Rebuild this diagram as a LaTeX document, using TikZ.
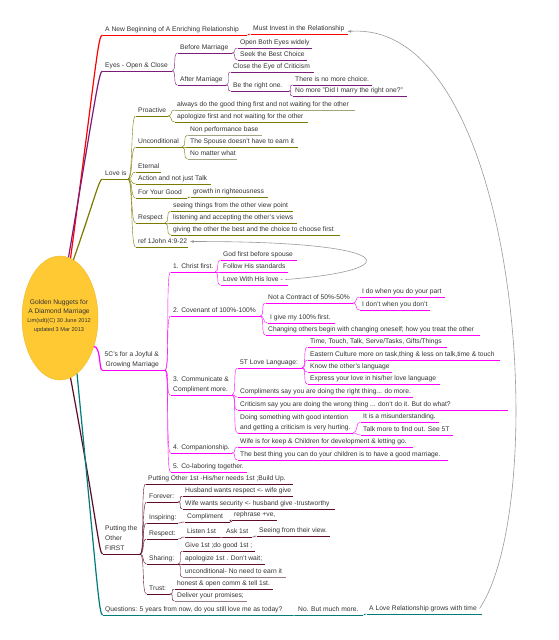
\documentclass[tikz,border=0pt]{standalone}
\usepackage{fontspec}
\setmainfont{Liberation Sans}
\usetikzlibrary{arrows.meta,shapes.geometric}
\definecolor{txt}{HTML}{333333}
\definecolor{cRed}{HTML}{FF0000}
\definecolor{cPur}{HTML}{7B1C7B}
\definecolor{cOli}{HTML}{7A7A00}
\definecolor{cOliL}{HTML}{A3A37F}
\definecolor{cMag}{HTML}{FF00FF}
\definecolor{cMar}{HTML}{5E0B24}
\definecolor{cMarL}{HTML}{9A7A86}
\definecolor{cTea}{HTML}{007B7B}
\definecolor{gold}{HTML}{FFC933}
\definecolor{goldD}{HTML}{F0B828}
\definecolor{arrg}{HTML}{9A9A9A}
\newcommand\mmnode[7][]{%
  \node[tbox,#1] (#2) at (#4,#6) {#7};
  \coordinate (#2-e) at (#5,#6);
  \draw[#3,uline] (#2.south west) -- (#2-e);
}
\begin{document}
\begin{tikzpicture}[x=1pt,y=-1pt,
  tbox/.style={anchor=south west, inner xsep=2.5pt, inner ysep=2pt, text height=5pt, text depth=1.5pt, align=left, font=\fontsize{6.7}{9.7}\selectfont, text=txt},
  uline/.style={line width=1pt},
  lnk/.style={line width=1pt, to path={.. controls +(5,0) and +(-5,0) .. (\tikztotarget)}},
  trunk/.style={line width=1.2pt},
  rel/.style={draw=arrg, line width=0.6pt, -{Latex[length=4pt,width=3pt]}},
  ctext/.style={anchor=base, text=txt, inner sep=0pt}
]
\useasboundingbox (0,0) rectangle (559,640);
\fill[white] (0,0) rectangle (559,640);

% central topic
\node[ellipse, fill=gold, draw=goldD, line width=0.4pt, minimum width=76pt, minimum height=124pt, inner sep=0pt] (c) at (60,318) {};
\node[ctext, font=\fontsize{6.7}{8}\selectfont] (ct1) at (59,304.4) {Golden Nuggets for};
\node[ctext, font=\fontsize{6.7}{8}\selectfont] (ct2) at (59,313.4) {A Diamond Marriage};
\node[ctext, font=\fontsize{5.6}{7}\selectfont] (ct3) at (59,322) {Lim(sdt)(C) 30 June 2012};
\node[ctext, font=\fontsize{5.6}{7}\selectfont] (ct4) at (59,331) {updated 3 Mar 2013};

% red branch
\mmnode{r1}{cRed}{102.5}{247}{35}{A New Beginning of A Enriching Relationship}
\mmnode{r2}{cRed}{250.5}{348}{34}{Must Invest in the Relationship}

% purple branch
\mmnode{e0}{cPur}{102.5}{172}{71}{Eyes - Open \& Close}
\mmnode{e1}{cPur}{177.5}{232}{53}{Before Marriage}
\mmnode{e11}{cPur}{237.5}{312}{48}{Open Both Eyes widely}
\mmnode{e12}{cPur}{237.5}{307}{60}{Seek the Best Choice}
\mmnode{e2}{cPur}{177.5}{226}{85}{After Marriage}
\mmnode{e21}{cPur}{230.5}{314}{72}{Close the Eye of Criticism}
\mmnode{e22}{cPur}{230.5}{289}{91}{Be the right one.}
\mmnode{e221}{cPur}{292.5}{372}{85}{There is no more choice.}
\mmnode{e222}{cPur}{292.5}{407}{96}{No more "Did I marry the right one?"}

% olive branch
\mmnode{l0}{cOli}{102.5}{128}{179}{Love is}
\mmnode{l1}{cOli}{135.5}{168}{116}{Proactive}
\mmnode{l11}{cOliL}{174.5}{355}{110}{always do the good thing first and not waiting for the other}
\mmnode{l12}{cOli}{174.5}{308}{122}{apologize first and not waiting for the other}
\mmnode{l2}{cOli}{135.5}{182}{147}{Unconditional}
\mmnode{l21}{cOliL}{187.5}{262}{135}{Non performance base}
\mmnode{l22}{cOli}{187.5}{298}{147}{The Spouse doesn't have to earn it}
\mmnode{l23}{cOliL}{187.5}{237}{159}{No matter what}
\mmnode{l3}{cOli}{135.5}{161}{172}{Eternal}
\mmnode{l4}{cOli}{135.5}{211}{184}{Action and not just Talk}
\mmnode{l5}{cOli}{135.5}{187}{198}{For Your Good}
\mmnode{l51}{cOli}{190.5}{268}{197}{growth in righteousness}
\mmnode{l6}{cOli}{135.5}{165}{223}{Respect}
\mmnode{l61}{cOli}{170.5}{293}{211}{seeing things from the other view point}
\mmnode{l62}{cOli}{170.5}{297}{223}{listening and accepting the other's views}
\mmnode{l63}{cOli}{170.5}{340}{235}{giving the other the best and the choice to choose first}
\mmnode{l7}{cOli}{135.5}{188}{247}{ref 1John 4:9-22}

% magenta branch
\mmnode[align=right]{m0}{cMag}{102}{165}{370}{5C's for a Joyful \&\\Growing Marriage}
\mmnode{m1}{cMag}{170.5}{215}{272}{1. Christ first.}
\mmnode{m11}{cMag}{220.5}{297}{260}{God first before spouse}
\mmnode{m12}{cMag}{220.5}{288}{272}{Follow His standards}
\mmnode{m13}{cMag}{220.5}{288}{285}{Love With His love -}
\mmnode{m2}{cMag}{170.5}{260}{316}{2. Covenant of 100\%-100\%}
\mmnode{m21}{cMag}{265.5}{353}{303}{Not a Contract of 50\%-50\%}
\mmnode{m211}{cMag}{359.5}{445}{297}{I do when you do your part}
\mmnode{m212}{cMag}{359.5}{430}{310}{I don't when you don't}
\mmnode{m22}{cMag}{267.5}{335}{323}{I give my 100\% first.}
\mmnode{m23}{cMag}{265.5}{480}{335}{Changing others begin with changing oneself; how you treat the other}
\mmnode{m3}{cMag}{170.5}{232}{395}{3. Communicate \&\\Compliment more.}
\mmnode{m31}{cMag}{237.5}{302}{368}{5T Love Language:}
\mmnode{m311}{cMag}{307.5}{447}{347}{Time, Touch, Talk, Serve/Tasks, Gifts/Things}
\mmnode{m312}{cMag}{307.5}{500}{360}{Eastern Culture more on task,thing \& less on talk,time \& touch}
\mmnode{m313}{cMag}{307.5}{392}{372}{Know the other's language}
\mmnode{m314}{cMag}{307.5}{440}{384}{Express your love in his/her love language}
\mmnode{m32}{cMag}{237.5}{413}{397}{Compliments say you are doing the right thing... do more.}
\mmnode{m33}{cMag}{237.5}{508}{410}{Criticism say you are doing the wrong thing ... don't do it. But do what?}
\mmnode{m34}{cMag}{237.5}{353}{433}{Doing something with good intention\\and getting a criticism is very hurting.}
\mmnode{m341}{cMag}{360.5}{439}{422}{It is a misunderstanding.}
\mmnode{m342}{cMag}{360.5}{453}{435}{Talk more to find out. See 5T}
\mmnode{m4}{cMag}{170.5}{232}{453}{4. Companionship.}
\mmnode{m41}{cMag}{237.5}{413}{447}{Wife is for keep \& Children for development \& letting go.}
\mmnode{m42}{cMag}{237.5}{448}{460}{The best thing you can do your children is to have a good marriage.}
\mmnode{m5}{cMag}{170.5}{247}{472}{5. Co-laboring together.}

% maroon branch
\mmnode{p0}{cMar}{102.5}{140}{554}{Putting the\\Other\\FIRST}
\mmnode{p1}{cMar}{145.5}{293}{484}{Putting Other 1st -His/her needs 1st ;Build Up.}
\mmnode{p2}{cMar}{146.5}{178}{502}{Forever:}
\mmnode{p21}{cMar}{182.5}{293}{496}{Husband wants respect <- wife give}
\mmnode{p22}{cMar}{182.5}{335}{509}{Wife wants security <- husband give -trustworthy}
\mmnode{p3}{cMar}{146.5}{178}{523}{Inspiring:}
\mmnode{p31}{cMar}{184.5}{230}{522}{Compliment}
\mmnode{p311}{cMar}{231.5}{277}{520}{rephrase +ve,}
\mmnode{p4}{cMar}{146.5}{178}{539}{Respect:}
\mmnode{p41}{cMar}{184.5}{219}{537}{Listen 1st}
\mmnode{p411}{cMar}{223.5}{252}{537}{Ask 1st}
\mmnode{p4111}{cMar}{256.5}{330}{536}{Seeing from their view.}
\mmnode{p5}{cMar}{146.5}{178}{564}{Sharing:}
\mmnode{p51}{cMar}{182.5}{255}{551}{Give 1st ;do good 1st ;}
\mmnode{p52}{cMar}{182.5}{265}{564}{apologize 1st . Don't wait;}
\mmnode{p53}{cMarL}{182.5}{286}{577}{unconditional- No need to earn it}
\mmnode{p6}{cMar}{146.5}{170}{594}{Trust:}
\mmnode{p61}{cMar}{174.5}{273}{589}{honest \& open comm \& tell 1st.}
\mmnode{p62}{cMarL}{174.5}{247}{601}{Deliver your promises;}

% teal branch
\mmnode{q0}{cTea}{102.5}{292}{615}{Questions: 5 years from now, do you still love me as today?}
\mmnode{q1}{cTea}{295.5}{363}{615}{No. But much more.}
\mmnode{q2}{cTea}{366.5}{482}{614}{A Love Relationship grows with time}

% trunks from the central topic
\draw[cRed,trunk] (c.80) .. controls (97,60) and (98,35) .. (r1.south west);
\draw[cPur,trunk] (c.82) .. controls (96,95) and (99,71) .. (e0.south west);
\draw[cOli,trunk] (c.77) .. controls (96,195) and (99,179) .. (l0.south west);
\draw[cMag,trunk] (c.-40) .. controls (101,347) and (99,370) .. (m0.south west);
\draw[cMar,trunk] (c.-80) .. controls (97,520) and (99,554) .. (p0.south west);
\draw[cTea,trunk] (c.-73) .. controls (97,580) and (99,615) .. (q0.south west);

% sub-branch connectors
\foreach \a/\b/\col in {r1/r2/cRed,
  e0/e1/cPur, e0/e2/cPur, e1/e11/cPur, e1/e12/cPur, e2/e21/cPur, e2/e22/cPur, e22/e221/cPur, e22/e222/cPur,
  l0/l1/cOli, l0/l2/cOli, l0/l3/cOli, l0/l4/cOli, l0/l5/cOli, l0/l6/cOli, l0/l7/cOli,
  l1/l11/cOli, l1/l12/cOli, l2/l21/cOli, l2/l22/cOli, l2/l23/cOli, l5/l51/cOli,
  l6/l61/cOli, l6/l62/cOli, l6/l63/cOli,
  m0/m1/cMag, m0/m2/cMag, m0/m3/cMag, m0/m4/cMag, m0/m5/cMag,
  m1/m11/cMag, m1/m12/cMag, m1/m13/cMag, m2/m21/cMag, m2/m22/cMag, m2/m23/cMag,
  m21/m211/cMag, m21/m212/cMag, m3/m31/cMag, m3/m32/cMag, m3/m33/cMag, m3/m34/cMag,
  m31/m311/cMag, m31/m312/cMag, m31/m313/cMag, m31/m314/cMag, m34/m341/cMag, m34/m342/cMag,
  m4/m41/cMag, m4/m42/cMag,
  p0/p1/cMar, p0/p2/cMar, p0/p3/cMar, p0/p4/cMar, p0/p5/cMar, p0/p6/cMar,
  p2/p21/cMar, p2/p22/cMar, p3/p31/cMar, p31/p311/cMar, p4/p41/cMar, p41/p411/cMar, p411/p4111/cMar,
  p5/p51/cMar, p5/p52/cMar, p5/p53/cMar, p6/p61/cMar, p6/p62/cMar,
  q0/q1/cTea, q1/q2/cTea}
  \draw[\col] (\a-e) to[lnk] (\b.south west);

% relationship arrows
\draw[rel] (q2.east) .. controls (552,500) and (520,20) .. ([yshift=-3pt]r2.east);
\draw[rel] (m13.east) .. controls (410,270) and (400,241) .. (l7.east);
\end{tikzpicture}
\end{document}
